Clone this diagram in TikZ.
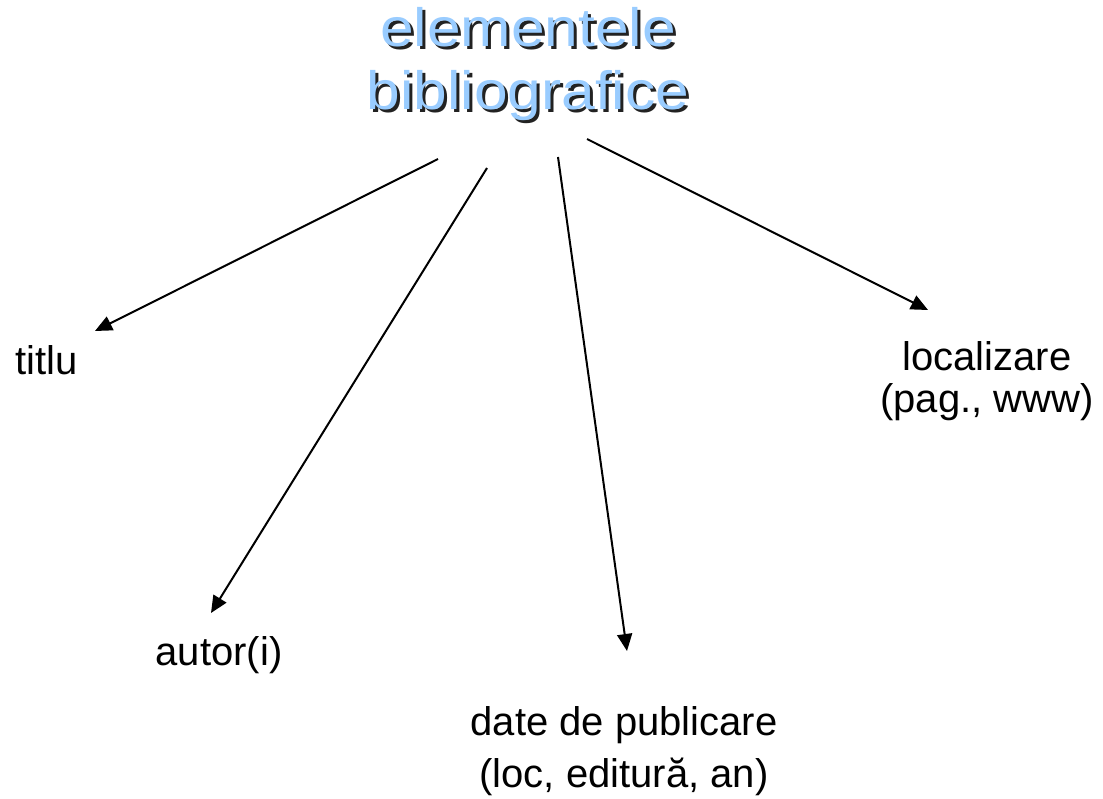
\documentclass[tikz,border=0pt]{standalone}
\usepackage{fontspec}
\setmainfont{Liberation Sans}
\usetikzlibrary{arrows.meta}
\definecolor{titleblue}{HTML}{99CCFF}
\definecolor{titleshade}{HTML}{222222}

\begin{document}
\begin{tikzpicture}[x=1pt,y=-1pt]
        \tikzstyle{every node}+=[inner sep=0pt]
        \tikzstyle{lbl}=[font=\fontsize{40}{43}\selectfont, align=center, anchor=base]
        \tikzstyle{ttl}=[font=\fontsize{54}{63}\selectfont, align=center, anchor=base, xscale=1.12]
        \tikzstyle{arr}=[black, line width=2pt, -{Triangle[length=17pt,width=15pt]}]
        \useasboundingbox (0,0) rectangle (1103,799);
        % title with its shadow
        \node [ttl, text=titleshade] (shade) at (531,113) {elementele\\bibliografice};
        \node [ttl, text=titleblue] (title) at (528,110) {elementele\\bibliografice};
        % labels
        \node [lbl] (titlu) at (47,375) {titlu};
        \node [lbl] (autor) at (219,665) {autor(i)};
        \node [lbl, font=\fontsize{40}{52}\selectfont] (date) at (624,787) {date de publicare\\(loc, editură, an)};
        \node [lbl] (loc) at (987,413) {localizare\\(pag., www)};
        % arrow ends
        \coordinate (s1) at (438,159);
        \coordinate (s2) at (487,168);
        \coordinate (s3) at (558,157);
        \coordinate (s4) at (587,139);
        \coordinate (e1) at (95,331);
        \coordinate (e2) at (211,613);
        \coordinate (e3) at (627,651);
        \coordinate (e4) at (928,310);
        \draw [arr] (s1) -- (e1);
        \draw [arr] (s2) -- (e2);
        \draw [arr] (s3) -- (e3);
        \draw [arr] (s4) -- (e4);
\end{tikzpicture}
\end{document}
